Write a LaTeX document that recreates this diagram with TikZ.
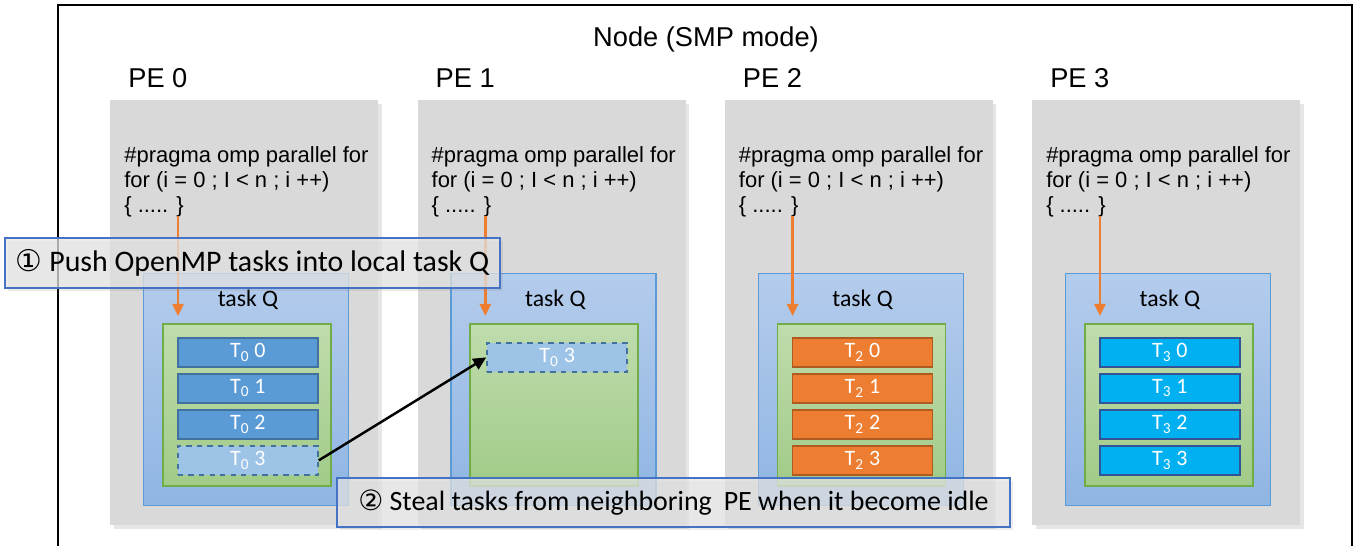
\documentclass[tikz,border=0pt]{standalone}
\usepackage{fontspec}
\setmainfont{Liberation Sans}
\newfontfamily\calibri{Carlito}
\newfontfamily\dejavu{DejaVu Sans}
\usepackage{xcolor}
\definecolor{cPE}{HTML}{D9D9D9}
\definecolor{cQ}{HTML}{5B9BD5}
\definecolor{cQtop}{HTML}{B4CCEC}
\definecolor{cQbot}{HTML}{8FB5E3}
\definecolor{cGreen}{HTML}{70AD47}
\definecolor{cGtop}{HTML}{BFDCAD}
\definecolor{cGbot}{HTML}{A1CB88}
\definecolor{cTaskB}{HTML}{5B9BD5}
\definecolor{cTaskBd}{HTML}{41719C}
\definecolor{cTaskO}{HTML}{ED7D31}
\definecolor{cTaskOd}{HTML}{AE5A21}
\definecolor{cTaskC}{HTML}{00B0F0}
\definecolor{cTaskCd}{HTML}{2F5597}
\definecolor{cSteal}{HTML}{9DC3E6}
\definecolor{cCall}{HTML}{4472C4}
\usepackage{tikz}
\usetikzlibrary{positioning,arrows.meta,shadows}
\tikzset{
  pe-box/.style={fill=cPE,anchor=north west,inner sep=0,
    minimum width=5.36cm,minimum height=8.5cm,
    drop shadow={shadow xshift=0.07cm,shadow yshift=-0.07cm,opacity=0.2}},
  pe-label/.style={font=\fontsize{15.5}{18}\selectfont,inner sep=0},
  code-text/.style={font=\fontsize{12.5}{14.2}\selectfont,align=left,
    inner sep=0,anchor=north west},
  q-box/.style={draw=cQ,line width=0.7pt,top color=cQtop,bottom color=cQbot,
    anchor=north west,inner sep=0,minimum width=4.1cm,minimum height=4.64cm},
  q-label/.style={font=\calibri\fontsize{13.5}{16}\selectfont,inner sep=0},
  g-box/.style={draw=cGreen,line width=1pt,top color=cGtop,bottom color=cGbot,
    anchor=north west,inner sep=0,minimum width=3.36cm,minimum height=3.24cm},
  task/.style={line width=1pt,anchor=north west,inner sep=0,
    minimum width=2.8cm,minimum height=0.58cm,text=white,
    font=\calibri\fontsize{12.5}{14}\selectfont},
  task-blue/.style={task,draw=cTaskBd,fill=cTaskB},
  task-orange/.style={task,draw=cTaskOd,fill=cTaskO},
  task-cyan/.style={task,draw=cTaskCd,fill=cTaskC},
  task-stolen/.style={task,draw=cTaskBd,fill=cSteal,dashed},
  push-arrow/.style={-{Triangle[length=2.4mm,width=2.2mm]},line width=1.4pt,
    draw=cTaskO,shorten >=0.14cm},
  steal-arrow/.style={-{Triangle[length=2.6mm,width=2.4mm]},line width=1.4pt,
    draw=black},
  callout/.style={draw=cCall,line width=0.9pt,fill=white!90!black,
    fill opacity=0.72,text opacity=1,inner sep=0,
    font=\calibri\fontsize{15.5}{18}\selectfont,
    drop shadow={shadow xshift=0.06cm,shadow yshift=-0.06cm,opacity=0.15}},
}
\begin{document}
\begin{tikzpicture}
  \useasboundingbox (0,0) rectangle (27.18,-10.92);
  % outer node frame, open at the bottom
  \draw[line width=1.1pt] (1.16,-11.2) |- (27.04,-0.1) -- (27.04,-11.2);
  \node[pe-label,anchor=base] (title) at (14.12,-0.94) {Node (SMP mode)};

  % one column per PE
  \foreach \i in {0,...,3}{
    \pgfmathsetmacro\L{2.2+6.146*\i}
    \node[pe-box] (pe\i) at (\L,-2.0) {};
    \node[pe-label,anchor=base west] (lab\i) at (\L+0.36,-1.76) {PE \i};
    \node[code-text] (code\i) at (\L+0.28,-2.92)
      {\#pragma omp parallel for\\for (i = 0 ; I < n ; i ++)\\\{ ..... \}};
    \node[q-box] (q\i) at (\L+0.66,-5.46) {};
    \node[q-label] (ql\i) at (\L+2.76,-6.0) {task Q};
    \node[g-box] (g\i) at (\L+1.04,-6.46) {};
    \coordinate (src\i) at (\L+1.36,-4.32);
    \draw[push-arrow] (src\i) -- (src\i |- g\i.north);
  }

  % tasks of PE 0
  \foreach \k in {0,1,2}
    \node[task-blue] (t0-\k) at (3.54,-6.74-0.72*\k) {T\textsubscript{0} \k};
  \node[task-stolen] (t0-3) at (3.54,-8.90) {T\textsubscript{0} 3};
  % tasks of PE 2 and PE 3
  \foreach \i/\c in {2/orange,3/cyan}{
    \pgfmathsetmacro\L{2.2+6.146*\i}
    \foreach \k in {0,...,3}
      \node[task-\c] (t\i-\k) at (\L+1.34,-6.74-0.72*\k) {T\textsubscript{\i} \k};
  }
  % stolen task in PE 1
  \node[task-stolen] (s1) at (9.726,-6.84) {T\textsubscript{0} 3};
  \draw[steal-arrow] (t0-3.east) -- (s1.west);

  % callouts
  \node[callout,font=\calibri\fontsize{17}{19}\selectfont,
    minimum width=9.9cm,minimum height=1.0cm] (note1) at (5.05,-5.26)
    {{\dejavu\char"2460} Push OpenMP tasks into local task Q};
  \node[callout,font=\calibri\fontsize{15.9}{18}\selectfont,
    minimum width=13.46cm,minimum height=0.98cm] (note2) at (13.47,-10.05)
    {{\dejavu\char"2461} Steal tasks from neighboring\hspace{0.2em} PE when it become idle};
\end{tikzpicture}
\end{document}
